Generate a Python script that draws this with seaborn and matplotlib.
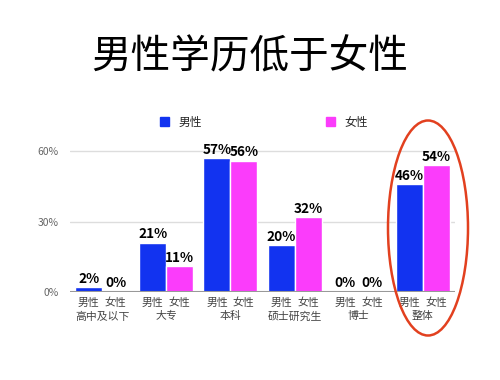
import pandas as pd
import numpy as np
import matplotlib
matplotlib.use('Agg')
import matplotlib.pyplot as plt
import seaborn as sns
from matplotlib.patches import Ellipse

categories = ['高中及以下', '大专', '本科', '硕士研究生', '博士', '整体']
male = [2, 21, 57, 20, 0, 46]
female = [0, 11, 56, 32, 0, 54]
genders = ['男性', '女性']
yticks = [0, 30, 60]

df = pd.DataFrame({
    'cat': categories * 2,
    'val': male + female,
    'sex': [genders[0]] * len(categories) + [genders[1]] * len(categories),
})

sns.set_style('white')
plt.rcParams['font.family'] = ['Noto Sans CJK SC', 'DejaVu Sans']

colors = ['#1233f0', '#fb3cfb']
fig = plt.figure(figsize=(5, 3.8), dpi=100)
ax = fig.add_axes([0.14, 0.232, 0.77, 0.385])
sns.barplot(data=df, x='cat', y='val', hue='sex', order=categories, hue_order=genders,
            palette=colors, saturation=1, width=0.84, edgecolor='white', linewidth=1,
            ax=ax, legend=False)

ax.set_ylim(0, 62.5)
ax.set_xlim(-0.5, len(categories) - 0.5)
ax.set_yticks(yticks)
ax.set_yticklabels([f'{t}%' for t in yticks], color='#666666', fontsize=7.5)
ax.tick_params(axis='y', length=0, pad=8)
for t in yticks[1:]:
    ax.axhline(t, color='#dddddd', lw=1, zorder=0)
ax.axhline(0, color='#999999', lw=1.5, zorder=3)
for s in ax.spines.values():
    s.set_visible(False)
ax.set_xlabel('')
ax.set_ylabel('')

# bar value labels and per-bar gender labels
for i, cont in enumerate(ax.containers):
    ax.bar_label(cont, labels=[f'{v:.0f}%' for v in cont.datavalues], fontsize=9.8,
                 fontweight='bold', padding=1, color='black')
    for bar in cont:
        ax.text(bar.get_x() + bar.get_width() / 2, -2.5, genders[i], ha='center', va='top',
                fontsize=7.8, color='#444444')

ax.set_xticks(range(len(categories)))
ax.set_xticklabels(categories, fontsize=7.8, color='#444444')
ax.tick_params(axis='x', length=0, pad=14)

# legend
handles = [plt.Rectangle((0, 0), 1, 1, color=c) for c in colors]
fig.legend(handles, genders, loc='center', bbox_to_anchor=(264 / 500, 1 - 122 / 380), ncol=2,
           frameon=False, fontsize=8.5, columnspacing=10.5, handlelength=0.8, handleheight=0.8,
           handletextpad=0.8)

fig.text(0.5, 1 - 57 / 380, '男性学历低于女性', ha='center', va='center', fontsize=28.5,
         color='black')

ell = Ellipse((428 / 500, 1 - 228 / 380), 80 / 500, 215 / 380, transform=fig.transFigure,
              fill=False, edgecolor='#e2401f', lw=1.8)
fig.patches.append(ell)

fig.savefig('out.png', dpi=100)
